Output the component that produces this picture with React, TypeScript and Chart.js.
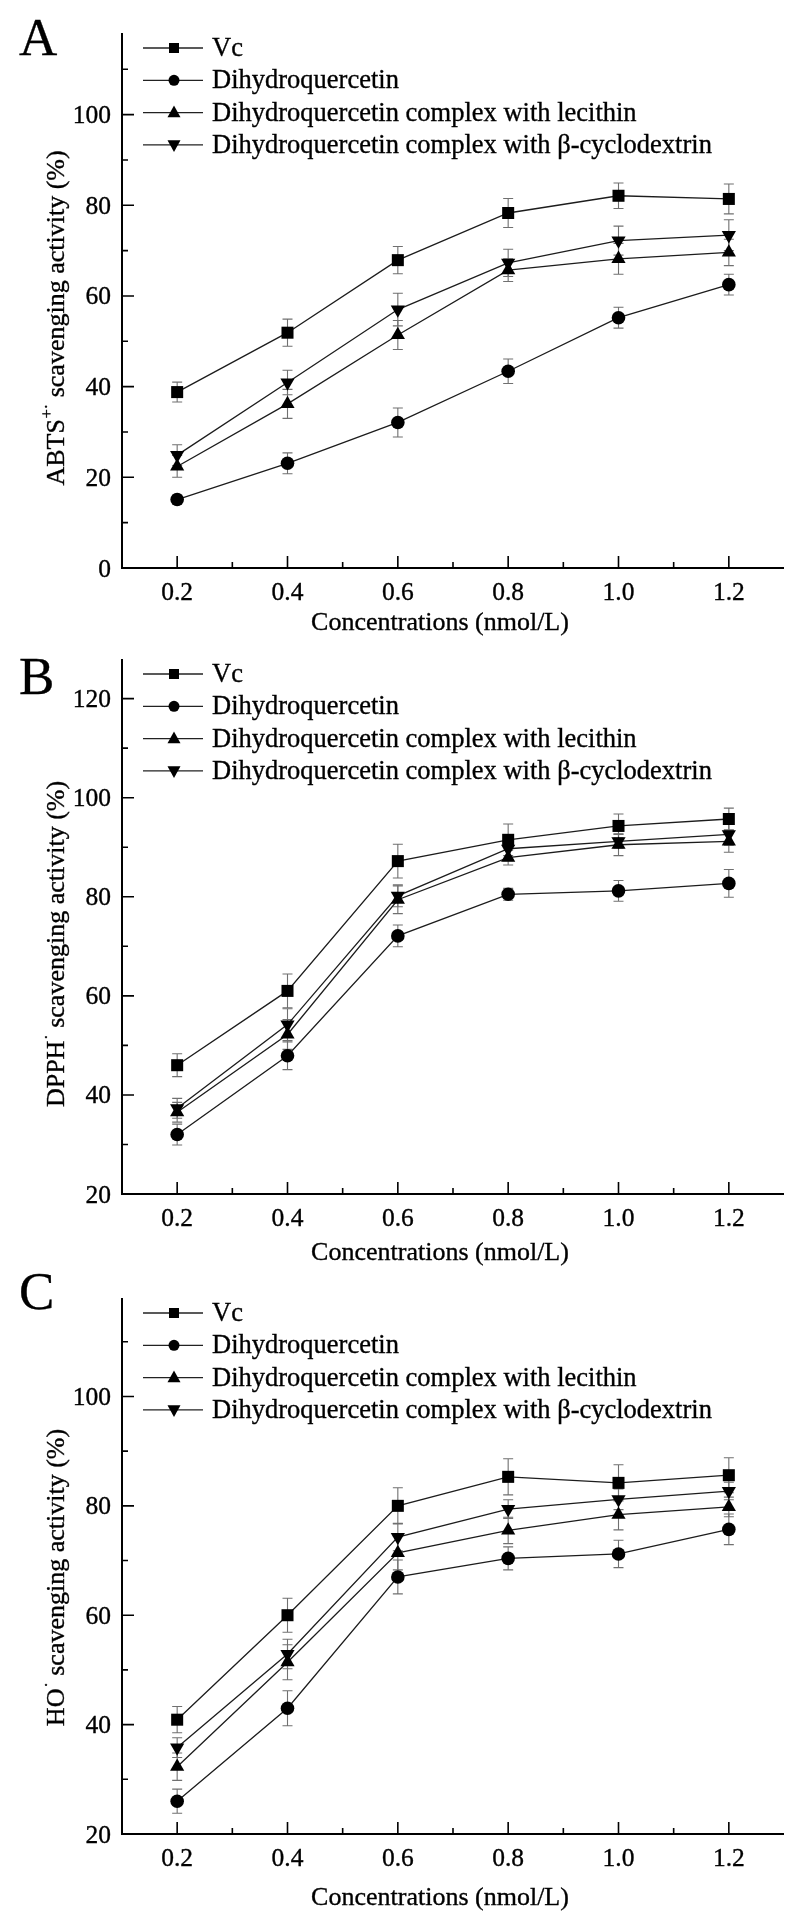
import React, { useEffect, useRef } from "react";
import { Chart, registerables } from "chart.js";

Chart.register(...registerables);

// ---------- data ----------
const CONCENTRATIONS = [0.2, 0.4, 0.6, 0.8, 1.0, 1.2];
const X_TICKS = [0.2, 0.4, 0.6, 0.8, 1.0, 1.2];
const X_MINOR_TICKS = [0.3, 0.5, 0.7, 0.9, 1.1];
const X_TITLE = "Concentrations (nmol/L)";
const SERIES_NAMES = [
  "Vc",
  "Dihydroquercetin",
  "Dihydroquercetin complex with lecithin",
  "Dihydroquercetin complex with β-cyclodextrin",
];

// Panel A – ABTS
const ABTS_VC = [38.8, 51.9, 67.9, 78.3, 82.1, 81.4];
const ABTS_VC_SD = [2.2, 3.0, 3.0, 3.2, 2.8, 3.3];
const ABTS_DHQ = [15.1, 23.1, 32.1, 43.4, 55.2, 62.5];
const ABTS_DHQ_SD = [1.0, 2.3, 3.2, 2.7, 2.3, 2.3];
const ABTS_LEC = [22.4, 36.2, 51.4, 65.7, 68.2, 69.6];
const ABTS_LEC_SD = [2.4, 3.2, 3.2, 2.5, 3.4, 2.9];
const ABTS_CD = [24.9, 40.9, 57.0, 67.3, 72.2, 73.4];
const ABTS_CD_SD = [2.3, 2.7, 3.6, 3.0, 3.2, 3.4];
const ABTS_Y_TICKS = [0, 20, 40, 60, 80, 100];
const ABTS_Y_MINOR = [10, 30, 50, 70, 90, 110];

// Panel B – DPPH
const DPPH_VC = [46.0, 61.0, 87.2, 91.5, 94.3, 95.7];
const DPPH_VC_SD = [2.3, 3.4, 3.4, 3.2, 2.4, 2.2];
const DPPH_DHQ = [32.0, 47.9, 72.1, 80.5, 81.2, 82.7];
const DPPH_DHQ_SD = [2.1, 2.8, 2.2, 1.2, 2.1, 2.8];
const DPPH_LEC = [36.5, 52.2, 79.4, 87.9, 90.5, 91.2];
const DPPH_LEC_SD = [2.0, 3.0, 2.8, 1.5, 2.2, 2.2];
const DPPH_CD = [37.3, 54.2, 80.2, 89.7, 91.2, 92.6];
const DPPH_CD_SD = [2.0, 3.2, 2.2, 2.4, 1.4, 2.2];
const DPPH_Y_TICKS = [20, 40, 60, 80, 100, 120];
const DPPH_Y_MINOR = [30, 50, 70, 90, 110];

// Panel C – HO
const HO_VC = [40.9, 60.0, 80.0, 85.3, 84.2, 85.6];
const HO_VC_SD = [2.4, 3.1, 3.3, 3.3, 3.3, 3.2];
const HO_DHQ = [26.0, 43.0, 67.0, 70.4, 71.2, 75.7];
const HO_DHQ_SD = [2.2, 3.2, 3.1, 2.1, 2.5, 2.8];
const HO_LEC = [32.3, 51.4, 71.4, 75.5, 78.4, 79.8];
const HO_LEC_SD = [2.5, 3.2, 3.1, 2.4, 2.8, 1.8];
const HO_CD = [35.8, 52.9, 74.3, 79.4, 81.2, 82.7];
const HO_CD_SD = [1.8, 2.7, 2.5, 1.7, 1.9, 1.6];
const HO_Y_TICKS = [20, 40, 60, 80, 100];
const HO_Y_MINOR = [30, 50, 70, 90, 110];

const PANELS = [
  {
    letter: "A",
    yTitle: ["ABTS", "+·", " scavenging activity (%)"],
    yMin: 0,
    yMax: 118,
    yTicks: ABTS_Y_TICKS,
    yMinor: ABTS_Y_MINOR,
    series: [
      [ABTS_VC, ABTS_VC_SD],
      [ABTS_DHQ, ABTS_DHQ_SD],
      [ABTS_LEC, ABTS_LEC_SD],
      [ABTS_CD, ABTS_CD_SD],
    ],
  },
  {
    letter: "B",
    yTitle: ["DPPH", "·", " scavenging activity (%)"],
    yMin: 20,
    yMax: 128,
    yTicks: DPPH_Y_TICKS,
    yMinor: DPPH_Y_MINOR,
    series: [
      [DPPH_VC, DPPH_VC_SD],
      [DPPH_DHQ, DPPH_DHQ_SD],
      [DPPH_LEC, DPPH_LEC_SD],
      [DPPH_CD, DPPH_CD_SD],
    ],
  },
  {
    letter: "C",
    yTitle: ["HO", "·", " scavenging activity (%)"],
    yMin: 20,
    yMax: 118,
    yTicks: HO_Y_TICKS,
    yMinor: HO_Y_MINOR,
    series: [
      [HO_VC, HO_VC_SD],
      [HO_DHQ, HO_DHQ_SD],
      [HO_LEC, HO_LEC_SD],
      [HO_CD, HO_CD_SD],
    ],
  },
];

// ---------- layout / style ----------
const LAYOUT = [
  { top: 0, height: 640, plotTop: 33, plotBottom: 568, letterBase: 55, xTitleOff: 54, yTitleOff: 18 },
  { top: 640, height: 630, plotTop: 19, plotBottom: 554, letterBase: 54, xTitleOff: 58, yTitleOff: 18 },
  { top: 1270, height: 642, plotTop: 28, plotBottom: 564, letterBase: 39, xTitleOff: 63, yTitleOff: 12 },
];
const PLOT_LEFT = 122;
const PLOT_RIGHT_PAD = 10;
const FONT = '"Liberation Serif", "Times New Roman", serif';
const MARKERS = [
  { style: "rect", radius: 8.5, rotation: 0 },
  { style: "circle", radius: 6.8, rotation: 0 },
  { style: "triangle", radius: 8.2, rotation: 0 },
  { style: "triangle", radius: 8.2, rotation: 180 },
];

function drawMarker(ctx: CanvasRenderingContext2D, idx: number, x: number, y: number, s: number) {
  ctx.beginPath();
  if (idx === 0) {
    ctx.rect(x - s / 2, y - s / 2, s, s);
  } else if (idx === 1) {
    ctx.arc(x, y, s / 2, 0, Math.PI * 2);
  } else if (idx === 2) {
    const h = s * 0.9;
    ctx.moveTo(x, y - h * 0.6);
    ctx.lineTo(x + s / 2, y + h * 0.4);
    ctx.lineTo(x - s / 2, y + h * 0.4);
    ctx.closePath();
  } else {
    const h = s * 0.9;
    ctx.moveTo(x, y + h * 0.6);
    ctx.lineTo(x + s / 2, y - h * 0.4);
    ctx.lineTo(x - s / 2, y - h * 0.4);
    ctx.closePath();
  }
  ctx.fill();
}

function text(ctx: CanvasRenderingContext2D, s: string, x: number, y: number) {
  ctx.fillText(s, x, y);
  ctx.strokeText(s, x, y);
}

const decorPlugin = {
  id: "panelDecor",
  beforeDatasetsDraw(chart: any) {
    const ctx: CanvasRenderingContext2D = chart.ctx;
    const xs = chart.scales.x;
    const ys = chart.scales.y;
    ctx.save();
    ctx.strokeStyle = "#707070";
    ctx.lineWidth = 1.1;
    chart.data.datasets.forEach((ds: any) => {
      ds.data.forEach((pt: any, i: number) => {
        const e = ds.errors[i];
        const px = xs.getPixelForValue(pt.x);
        const yT = ys.getPixelForValue(pt.y + e);
        const yB = ys.getPixelForValue(pt.y - e);
        ctx.beginPath();
        ctx.moveTo(px, yT);
        ctx.lineTo(px, yB);
        ctx.moveTo(px - 5, yT);
        ctx.lineTo(px + 5, yT);
        ctx.moveTo(px - 5, yB);
        ctx.lineTo(px + 5, yB);
        ctx.stroke();
      });
    });
    ctx.restore();
  },
  afterDraw(chart: any, _args: any, opts: any) {
    const ctx: CanvasRenderingContext2D = chart.ctx;
    const ca = chart.chartArea;
    const xs = chart.scales.x;
    const ys = chart.scales.y;
    ctx.save();
    ctx.fillStyle = "#000";
    ctx.strokeStyle = "#000";

    // axes lines
    ctx.lineWidth = 2;
    ctx.beginPath();
    ctx.moveTo(ca.left, ca.top);
    ctx.lineTo(ca.left, ca.bottom + 1);
    ctx.moveTo(ca.left - 1, ca.bottom);
    ctx.lineTo(ca.right, ca.bottom);
    ctx.stroke();

    // ticks (inward)
    ctx.lineWidth = 1.6;
    ctx.beginPath();
    X_TICKS.forEach((v) => {
      const px = xs.getPixelForValue(v);
      ctx.moveTo(px, ca.bottom);
      ctx.lineTo(px, ca.bottom - 12);
    });
    X_MINOR_TICKS.forEach((v) => {
      const px = xs.getPixelForValue(v);
      ctx.moveTo(px, ca.bottom);
      ctx.lineTo(px, ca.bottom - 6);
    });
    opts.yTicks.forEach((v: number) => {
      const py = ys.getPixelForValue(v);
      ctx.moveTo(ca.left, py);
      ctx.lineTo(ca.left + 12, py);
    });
    opts.yMinor.forEach((v: number) => {
      const py = ys.getPixelForValue(v);
      ctx.moveTo(ca.left, py);
      ctx.lineTo(ca.left + 6, py);
    });
    ctx.stroke();

    ctx.lineWidth = 0.35;

    // tick labels
    ctx.font = `25.5px ${FONT}`;
    ctx.textBaseline = "alphabetic";
    ctx.textAlign = "center";
    X_TICKS.forEach((v) => {
      text(ctx, v.toFixed(1), xs.getPixelForValue(v), ca.bottom + 32);
    });
    ctx.textAlign = "right";
    opts.yTicks.forEach((v: number) => {
      text(ctx, String(v), ca.left - 11, ys.getPixelForValue(v) + 8.5);
    });

    // x title
    ctx.font = `26px ${FONT}`;
    ctx.textAlign = "center";
    text(ctx, X_TITLE, 440, ca.bottom + opts.xTitleOff + 8);

    // y title (rotated, with superscript)
    const [t1, t2, t3] = opts.yTitle;
    ctx.save();
    ctx.translate(55, (ca.top + ca.bottom) / 2 + opts.yTitleOff);
    ctx.rotate(-Math.PI / 2);
    ctx.textAlign = "left";
    ctx.font = `26px ${FONT}`;
    const w1 = ctx.measureText(t1).width;
    const w3 = ctx.measureText(t3).width;
    ctx.font = `16px ${FONT}`;
    const w2 = ctx.measureText(t2).width;
    let x = -(w1 + w2 + w3) / 2;
    ctx.font = `26px ${FONT}`;
    text(ctx, t1, x, 9);
    x += w1;
    ctx.font = `16px ${FONT}`;
    text(ctx, t2, x + 1, -3);
    x += w2 + 1;
    ctx.font = `26px ${FONT}`;
    text(ctx, t3, x, 9);
    ctx.restore();

    // panel letter
    ctx.font = `53px ${FONT}`;
    ctx.textAlign = "left";
    text(ctx, opts.letter, 19, opts.letterBase);

    // legend
    ctx.font = `26.5px ${FONT}`;
    ctx.textBaseline = "middle";
    SERIES_NAMES.forEach((name, i) => {
      const y = ca.top + 15 + 32.3 * i;
      ctx.strokeStyle = "#222";
      ctx.lineWidth = 1.3;
      ctx.beginPath();
      ctx.moveTo(143, y);
      ctx.lineTo(203, y);
      ctx.stroke();
      drawMarker(ctx, i, 174, y, i === 0 ? 10 : i === 1 ? 11 : 13);
      ctx.strokeStyle = "#000";
      ctx.lineWidth = 0.35;
      text(ctx, name, 212, y + 1);
    });
    ctx.restore();
  },
};

function buildConfig(p: any, l: any): any {
  const datasets = p.series.map((s: number[][], i: number) => ({
    label: SERIES_NAMES[i],
    data: CONCENTRATIONS.map((c, k) => ({ x: c, y: s[0][k] })),
    errors: s[1],
    borderColor: "#1c1c1c",
    borderWidth: 1.3,
    backgroundColor: "#000",
    pointStyle: MARKERS[i].style,
    pointRadius: MARKERS[i].radius,
    pointRotation: MARKERS[i].rotation,
    pointBackgroundColor: "#000",
    pointBorderColor: "#000",
    pointBorderWidth: 0,
    tension: 0,
    fill: false,
  }));
  return {
    type: "line",
    data: { datasets },
    plugins: [decorPlugin],
    options: {
      animation: false,
      responsive: false,
      devicePixelRatio: 1,
      events: [],
      layout: {
        padding: {
          left: PLOT_LEFT,
          right: PLOT_RIGHT_PAD,
          top: l.plotTop,
          bottom: l.height - l.plotBottom,
        },
      },
      scales: {
        x: { type: "linear", min: 0.1, max: 1.3, display: false },
        y: { type: "linear", min: p.yMin, max: p.yMax, display: false },
      },
      plugins: {
        legend: { display: false },
        tooltip: { enabled: false },
        panelDecor: {
          yTicks: p.yTicks,
          yMinor: p.yMinor,
          yTitle: p.yTitle,
          letter: p.letter,
          letterBase: l.letterBase,
          xTitleOff: l.xTitleOff,
          yTitleOff: l.yTitleOff,
        },
      },
    },
  };
}

export default function App() {
  const r0 = useRef<HTMLCanvasElement>(null);
  const r1 = useRef<HTMLCanvasElement>(null);
  const r2 = useRef<HTMLCanvasElement>(null);
  const refs = [r0, r1, r2];

  useEffect(() => {
    const charts = PANELS.map((p, i) => new Chart(refs[i].current as HTMLCanvasElement, buildConfig(p, LAYOUT[i])));
    return () => charts.forEach((c) => c.destroy());
  }, []);

  return (
    <div style={{ position: "absolute", left: 0, top: 0, width: 794, height: 1912, background: "#fff", overflow: "hidden" }}>
      {LAYOUT.map((l, i) => (
        <canvas
          key={i}
          ref={refs[i]}
          width={794}
          height={l.height}
          style={{ position: "absolute", left: 0, top: l.top, width: 794, height: l.height, display: "block" }}
        />
      ))}
    </div>
  );
}
